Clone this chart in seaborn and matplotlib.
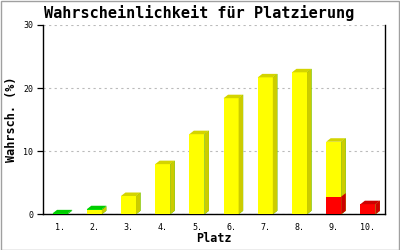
import matplotlib
matplotlib.use("Agg")
import matplotlib.pyplot as plt
from matplotlib.patches import Polygon, Rectangle
import seaborn as sns
import numpy as np

places = ["1.", "2.", "3.", "4.", "5.", "6.", "7.", "8.", "9.", "10."]
red_vals = [0, 0, 0, 0, 0, 0, 0, 0, 2.8, 1.6]
yellow_vals = [0, 0.7, 2.9, 7.95, 12.7, 18.4, 21.7, 22.5, 8.7, 0]
green_vals = [0.15, 0.1, 0, 0, 0, 0, 0, 0, 0, 0]

title = "Wahrscheinlichkeit für Platzierung"
xlabel = "Platz"
ylabel = "Wahrsch. (%)"

sns.set_theme(style="white")
plt.rcParams["font.family"] = ["DejaVu Sans Mono", "DejaVu Sans"]

W, H = 400, 250
fig = plt.figure(figsize=(4, 2.5), dpi=100)
fig.patch.set_facecolor("white")
left, right, top, bottom = 43, 385, 25, 214.3
ax = fig.add_axes([left / W, 1 - bottom / H, (right - left) / W, (bottom - top) / H])
ax.set_facecolor("white")

red = np.array(red_vals)
yellow = np.array(yellow_vals)
green = np.array(green_vals)
layers = [
    (red + yellow + green, "#00ee00", "#00bb00"),
    (red + yellow, "#ffff00", "#cccc00"),
    (red, "#ff0000", "#cc0000"),
]

ax.set_xlim(-0.5, 9.5)
ax.set_ylim(0, 30)

def px_to_data(dxp, dyp):
    p0 = ax.transData.transform((0, 0))
    p1 = ax.transData.transform((1, 1))
    return dxp / (p1[0] - p0[0]), dyp / (p1[1] - p0[1])

ddx, ddy = px_to_data(4.5, 3.5)

total_patches = None
for vals, col, dark in layers:
    n0 = len(ax.patches)
    sns.barplot(x=places, y=vals, color=col, saturation=1, width=0.44,
                edgecolor="none", linewidth=0, ax=ax, zorder=3)
    pats = ax.patches[n0:]
    if total_patches is None:
        total_patches = list(pats)
    for p in pats:
        h = p.get_height()
        if h <= 0:
            continue
        x0 = p.get_x()
        x1 = x0 + p.get_width()
        y0 = p.get_y()
        side = Polygon([(x1, y0), (x1 + ddx, y0 + ddy), (x1 + ddx, y0 + h + ddy), (x1, y0 + h)],
                       closed=True, facecolor=dark, edgecolor="none", zorder=3)
        ax.add_patch(side)

# top faces in the colour of the topmost segment
for i, p in enumerate(total_patches):
    h = p.get_height()
    if h <= 0:
        continue
    if green[i] > 0:
        tcol = "#00cc00"
    elif yellow[i] > 0:
        tcol = "#d4d400"
    else:
        tcol = "#cc0000"
    x0 = p.get_x()
    x1 = x0 + p.get_width()
    topf = Polygon([(x0, h), (x0 + ddx, h + ddy), (x1 + ddx, h + ddy), (x1, h)],
                   closed=True, facecolor=tcol, edgecolor="none", zorder=4)
    ax.add_patch(topf)

ax.set_xlim(-0.5, 9.5)
ax.set_ylim(0, 30)
ax.set_yticks([0, 10, 20, 30])
ax.set_yticklabels(["0", "10", "20", "30"])
ax.yaxis.grid(True, linestyle=(0, (2, 3)), color="#bbbbbb", linewidth=0.8)
ax.xaxis.grid(False)
ax.set_axisbelow(True)

for s in ["left", "bottom", "right"]:
    ax.spines[s].set_visible(True)
    ax.spines[s].set_color("black")
    ax.spines[s].set_linewidth(1.0)
ax.spines["top"].set_visible(False)

ax.tick_params(axis="y", which="major", left=True, length=4, width=0.9, color="black",
               labelsize=6, pad=3, labelcolor="black")
ax.tick_params(axis="x", which="major", bottom=False, length=0, labelsize=6, pad=6,
               labelcolor="black")

ax.set_xlabel(xlabel, fontsize=8.5, fontweight="bold", color="black")
ax.set_ylabel(ylabel, fontsize=8.5, fontweight="bold", color="black")
ax.xaxis.set_label_coords(0.5, (bottom - 239) / (bottom - top))
ax.yaxis.set_label_coords((12 - left) / (right - left), 0.5)
ax.xaxis.label.set_va("center")
ax.yaxis.label.set_va("center")

fig.text(199.5 / W, 1 - 13 / H, title, ha="center", va="center",
         fontsize=11, fontweight="bold", color="black")

border = Rectangle((0.5 / W, 0.5 / H), 1 - 1.5 / W, 1 - 1.5 / H, transform=fig.transFigure,
                   facecolor="none", edgecolor="#a0a0a0", linewidth=1.0)
fig.patches.append(border)

fig.savefig("out.png", dpi=100)
